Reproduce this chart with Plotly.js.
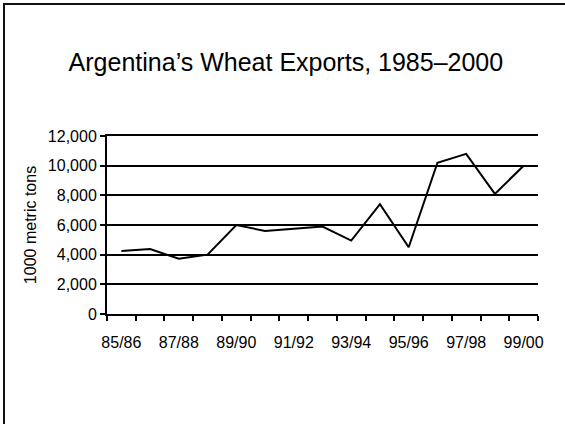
<!DOCTYPE html>
<html>
<head>
<meta charset="utf-8">
<script src="https://cdn.plot.ly/plotly-3.0.1.min.js"></script>
<style>
  html, body { margin: 0; padding: 0; background: #fff; }
  #wrap { position: relative; width: 565px; height: 424px; overflow: hidden; }
  #chart { position: absolute; left: 0; top: 0; width: 565px; height: 424px; }
  /* slide frame: top and left edges */
  #frame { position: absolute; left: 3px; top: 3px; width: 600px; height: 460px;
           border-top: 2px solid #111; border-left: 2px solid #111; pointer-events: none; }
</style>
</head>
<body>
<div id="wrap">
  <div id="chart"></div>
  <div id="frame"></div>
</div>
<script>
// Marketing years, 1985/86 through 1999/2000
const seasons = ['85/86','86/87','87/88','88/89','89/90','90/91','91/92','92/93',
                 '93/94','94/95','95/96','96/97','97/98','98/99','99/00'];
// Wheat exports, thousand metric tons
const exports = [4250, 4380, 3720, 4000, 6000, 5600, 5750, 5900,
                 4950, 7400, 4500, 10200, 10800, 8100, 10000];
// Y-axis ticks
const yTicks = [0, 2000, 4000, 6000, 8000, 10000, 12000];
const yTickText = ['0', '2,000', '4,000', '6,000', '8,000', '10,000', '12,000'];

// Only every other season is labelled on the axis
const xTickText = seasons.map((s, i) => (i % 2 === 0 ? s : ''));

const font = { family: 'Arial, "Liberation Sans", Helvetica, sans-serif', color: '#000' };

const trace = {
  type: 'scatter',
  mode: 'lines',
  x: seasons,
  y: exports,
  line: { color: '#000', width: 2 },
  hoverinfo: 'skip'
};

const layout = {
  width: 565,
  height: 424,
  paper_bgcolor: '#fff',
  plot_bgcolor: '#fff',
  showlegend: false,
  margin: { l: 107, r: 27, t: 136, b: 110, pad: 0 },
  font: Object.assign({ size: 16 }, font),
  title: {
    text: 'Argentina\u2019s Wheat Exports, 1985\u20132000',
    font: Object.assign({ size: 25 }, font),
    xref: 'container', yref: 'container',
    x: 0.506, xanchor: 'center',
    y: 1 - 62 / 424, yanchor: 'middle'
  },
  xaxis: {
    type: 'category',
    range: [-0.5, seasons.length - 0.5],
    tickmode: 'array',
    tickvals: seasons,
    ticktext: xTickText,
    tickson: 'boundaries',
    tickangle: 0,
    ticks: 'outside',
    ticklen: 5,
    tickwidth: 2,
    tickcolor: '#000',
    showline: true,
    mirror: true,
    linecolor: '#000',
    linewidth: 2,
    showgrid: false,
    zeroline: false,
    tickfont: Object.assign({ size: 16 }, font),
    ticklabelstandoff: 13,
    fixedrange: true
  },
  yaxis: {
    range: [0, 12000],
    tickmode: 'array',
    tickvals: yTicks,
    ticktext: yTickText,
    ticks: 'outside',
    ticklen: 5,
    tickwidth: 2,
    tickcolor: '#000',
    showline: true,
    linecolor: '#000',
    linewidth: 2,
    showgrid: true,
    gridcolor: '#000',
    gridwidth: 2,
    zeroline: false,
    tickfont: Object.assign({ size: 16 }, font),
    title: {
      text: '1000 metric tons',
      font: Object.assign({ size: 16 }, font),
      standoff: 7
    },
    fixedrange: true
  }
};

Plotly.newPlot('chart', [trace], layout, { displayModeBar: false, staticPlot: true });
</script>
</body>
</html>
